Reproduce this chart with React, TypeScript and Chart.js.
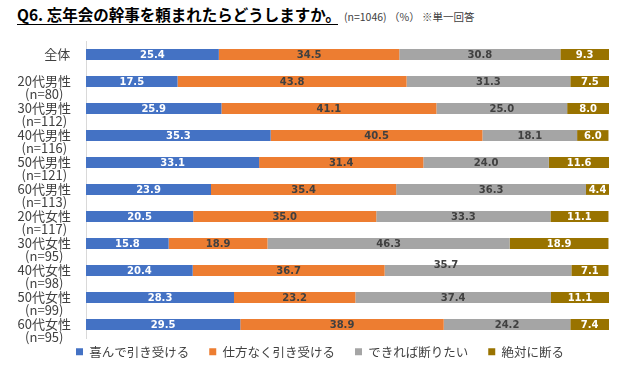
import React, { useEffect, useRef } from "react";
import { Chart, registerables } from "chart.js";

Chart.register(...registerables);

const categories: string[][] = [
  ["　　全体"],
  ["", "20代男性", "(n=80)"],
  ["", "30代男性", "(n=112)"],
  ["", "40代男性", "(n=116)"],
  ["", "50代男性", "(n=121)"],
  ["", "60代男性", "(n=113)"],
  ["", "20代女性", "(n=117)"],
  ["", "30代女性", "(n=95)"],
  ["", "40代女性", "(n=98)"],
  ["", "50代女性", "(n=99)"],
  ["", "60代女性", "(n=95)"],
];

const seriesNames = ["喜んで引き受ける", "仕方なく引き受ける", "できれば断りたい", "絶対に断る"];

const gladly = [25.4, 17.5, 25.9, 35.3, 33.1, 23.9, 20.5, 15.8, 20.4, 28.3, 29.5];
const reluctantly = [34.5, 43.8, 41.1, 40.5, 31.4, 35.4, 35.0, 18.9, 36.7, 23.2, 38.9];
const preferDecline = [30.8, 31.3, 25.0, 18.1, 24.0, 36.3, 33.3, 46.3, 35.7, 37.4, 24.2];
const definitelyDecline = [9.3, 7.5, 8.0, 6.0, 11.6, 4.4, 11.1, 18.9, 7.1, 11.1, 7.4];

const colors = ["#4472C4", "#ED7D31", "#A5A5A5", "#997300"];
const labelColors = ["#FFFFFF", "#404040", "#404040", "#FFFFFF"];

// the reference shows one label nudged away from its segment
const labelNudge = { dataset: 2, index: 8, dx: -32, dy: -6 };

const valueLabels = {
  id: "valueLabels",
  afterDatasetsDraw(chart: any) {
    const ctx = chart.ctx;
    ctx.save();
    ctx.font = "bold 10px 'DejaVu Sans'";
    ctx.textAlign = "center";
    ctx.textBaseline = "middle";
    chart.data.datasets.forEach((ds: any, di: number) => {
      const meta = chart.getDatasetMeta(di);
      meta.data.forEach((bar: any, i: number) => {
        const v = ds.data[i] as number;
        let x = (bar.x + bar.base) / 2;
        let y = bar.y;
        if (di === labelNudge.dataset && i === labelNudge.index) {
          x += labelNudge.dx;
          y += labelNudge.dy;
        }
        ctx.fillStyle = labelColors[di];
        ctx.fillText(v.toFixed(1), x, y + 0.5);
      });
    });
    ctx.restore();
  },
};

export default function App() {
  const ref = useRef<HTMLCanvasElement | null>(null);
  useEffect(() => {
    if (!ref.current) return;
    const seriesData = [gladly, reluctantly, preferDecline, definitelyDecline];
    const chart = new Chart(ref.current, {
      type: "bar",
      data: {
        labels: categories,
        datasets: seriesNames.map((name, i) => ({
          label: name,
          data: seriesData[i],
          backgroundColor: colors[i],
          borderWidth: 0,
          categoryPercentage: 1,
          barPercentage: 0.4,
        })),
      },
      options: {
        indexAxis: "y",
        animation: false,
        responsive: true,
        maintainAspectRatio: false,
        layout: { padding: { left: 0, right: 0, top: 41, bottom: 3 } },
        scales: {
          x: { stacked: true, min: 0, max: 100, display: false },
          y: {
            stacked: true,
            grid: { display: false, drawTicks: false },
            border: { display: true, color: "#D9D9D9", width: 1 },
            ticks: {
              autoSkip: false,
              crossAlign: "center",
              padding: 15,
              color: "#404040",
              font: { family: "'Noto Sans CJK JP'", size: 13, lineHeight: 0.97 },
            },
            afterFit: (scale: any) => {
              scale.width = 86;
            },
          },
          yRight: {
            type: "category",
            position: "right",
            display: true,
            grid: { display: false, drawTicks: false },
            border: { display: false },
            ticks: { display: false },
            afterFit: (scale: any) => {
              scale.width = 31;
            },
          },
        },
        plugins: {
          tooltip: { enabled: false },
          legend: {
            position: "bottom",
            labels: {
              boxWidth: 7,
              boxHeight: 7,
              padding: 7.5,
              color: "#404040",
              font: { family: "'Noto Sans CJK JP'", size: 12.5 },
              generateLabels: (c: any) => {
                const items = Chart.defaults.plugins.legend.labels.generateLabels(c);
                return items.map((it: any, i: number) => ({
                  ...it,
                  text: i < items.length - 1 ? it.text + "　" : it.text,
                  lineWidth: 0,
                }));
              },
            },
          },
        },
      },
      plugins: [valueLabels],
    } as any);
    return () => chart.destroy();
  }, []);

  return (
    <div style={{ position: "fixed", left: 0, top: 0, width: 640, height: 371, background: "#fff" }}>
      <div
        style={{
          position: "absolute",
          left: 17,
          top: 4,
          width: 321,
          height: 20,
          borderBottom: "1.5px solid #000",
          fontFamily: "'Noto Sans CJK JP'",
          fontWeight: 700,
          fontSize: 15.5,
          lineHeight: "20px",
          color: "#000",
          whiteSpace: "nowrap",
        }}
      >
        Q6. 忘年会の幹事を頼まれたらどうしますか。
      </div>
      <div
        style={{
          position: "absolute",
          left: 344,
          top: 10,
          fontFamily: "'Noto Sans CJK JP'",
          fontSize: 10.5,
          lineHeight: "14px",
          color: "#404040",
          whiteSpace: "nowrap",
        }}
      >
        (n=1046) （%） ※単一回答
      </div>
      <canvas ref={ref} style={{ position: "absolute", left: 0, top: 0 }} />
    </div>
  );
}
